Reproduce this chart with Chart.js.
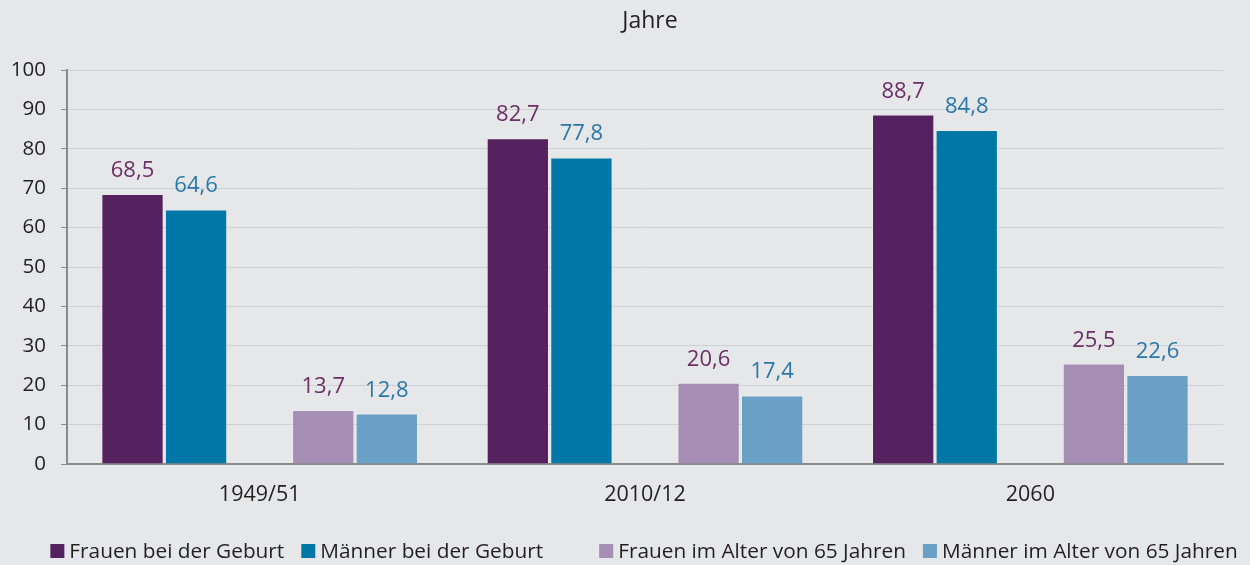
<!DOCTYPE html>
<html>
<head>
<meta charset="utf-8">
<script src="https://cdn.jsdelivr.net/npm/chart.js@4/dist/chart.umd.min.js"></script>
<style>
  html, body { margin: 0; padding: 0; background: #e6e7e9; }
  #wrap { width: 1250px; height: 565px; position: relative; }
</style>
</head>
<body>
<div id="wrap"><canvas id="c" width="1250" height="565"></canvas></div>
<script>
const categories = ['1949/51', '2010/12', '2060'];
const seriesLabels = ['Frauen bei der Geburt', 'Männer bei der Geburt', 'Frauen im Alter von 65 Jahren', 'Männer im Alter von 65 Jahren'];
const frauenGeburt = [68.5, 82.7, 88.7];
const maennerGeburt = [64.6, 77.8, 84.8];
const frauen65 = [13.7, 20.6, 25.5];
const maenner65 = [12.8, 17.4, 22.6];
const yMin = 0, yMax = 100, yStep = 10;
const titleText = 'Jahre';

const FONT = 'Open Sans';
const TEXT = '#231f20';
const colors = ['#55215f', '#0077a6', '#a68db3', '#6aa0c6'];
const labelColors = ['#6b2f66', '#2a78a8', '#6b2f66', '#2a78a8'];

const series = [frauenGeburt, maennerGeburt, null, frauen65, maenner65];
let ci = 0;
const datasets = series.map((d) => {
  if (d === null) {
    return { label: '', data: categories.map(() => null), backgroundColor: 'rgba(0,0,0,0)', spacer: true,
             barPercentage: 0.98, categoryPercentage: 0.825 };
  }
  const k = ci++;
  return {
    label: seriesLabels[k],
    data: d,
    backgroundColor: colors[k],
    borderColor: 'rgba(255,255,255,0.2)',
    borderWidth: 1,
    valueColor: labelColors[k],
    barPercentage: 0.98,
    categoryPercentage: 0.825
  };
});

const valueLabels = {
  id: 'valueLabels',
  afterDatasetsDraw(chart) {
    const ctx = chart.ctx;
    ctx.save();
    ctx.font = '22px "' + FONT + '"';
    ctx.textAlign = 'center';
    ctx.textBaseline = 'alphabetic';
    chart.data.datasets.forEach((ds, di) => {
      if (ds.spacer) return;
      const meta = chart.getDatasetMeta(di);
      meta.data.forEach((bar, i) => {
        const v = ds.data[i];
        if (v == null) return;
        ctx.fillStyle = ds.valueColor;
        ctx.fillText(v.toFixed(1).replace('.', ','), bar.x, bar.y - 17);
      });
    });
    ctx.restore();
  }
};

const titleAndLegend = {
  id: 'titleAndLegend',
  afterDraw(chart) {
    const ctx = chart.ctx;
    const ca = chart.chartArea;
    const cx = (ca.left + ca.right) / 2;
    ctx.save();
    // title
    ctx.font = '23px "' + FONT + '"';
    ctx.fillStyle = TEXT;
    ctx.textAlign = 'center';
    ctx.textBaseline = 'middle';
    ctx.fillText(titleText, cx + 5, 21);
    // legend
    ctx.font = '20.8px "' + FONT + '"';
    ctx.textBaseline = 'middle';
    ctx.textAlign = 'left';
    const box = 14, boxGap = 5, itemGap = 17, spacerW = 22;
    const items = chart.data.datasets.map(ds => ds.spacer ? { spacer: true, w: spacerW } :
      { text: ds.label, color: ds.backgroundColor, w: box + boxGap + ctx.measureText(ds.label).width });
    const total = items.reduce((s, it) => s + it.w, 0) + itemGap * (items.length - 1);
    let x = cx - 1 - total / 2;
    const y = 551;
    items.forEach(it => {
      if (!it.spacer) {
        ctx.fillStyle = it.color;
        ctx.fillRect(x, y - box / 2, box, box);
        ctx.fillStyle = TEXT;
        ctx.fillText(it.text, x + box + boxGap, y + 1);
      }
      x += it.w + itemGap;
    });
    ctx.restore();
  }
};

new Chart(document.getElementById('c'), {
  type: 'bar',
  data: { labels: categories, datasets },
  options: {
    responsive: false,
    animation: false,
    layout: { padding: { left: 0, right: 27, top: 70, bottom: 58 } },
    plugins: {
      legend: { display: false },
      tooltip: { enabled: false },
      title: { display: false }
    },
    scales: {
      x: {
        grid: { display: false, drawTicks: false, tickLength: 0 },
        border: { display: true, color: '#8a8a8a', width: 2 },
        ticks: { color: TEXT, font: { family: FONT, size: 21.5 }, padding: 18 },
        afterFit(s) { s.height = 43; }
      },
      y: {
        min: yMin, max: yMax,
        ticks: { stepSize: yStep, color: TEXT, font: { family: FONT, size: 20.5 }, padding: 15 },
        grid: { color: '#cfd0d3', lineWidth: 1, tickLength: 6, tickColor: '#8a8a8a', drawTicks: true },
        border: { display: true, color: '#8a8a8a', width: 2 },
        afterFit(s) { s.width = 67; }
      }
    }
  },
  plugins: [valueLabels, titleAndLegend]
});
</script>
</body>
</html>
